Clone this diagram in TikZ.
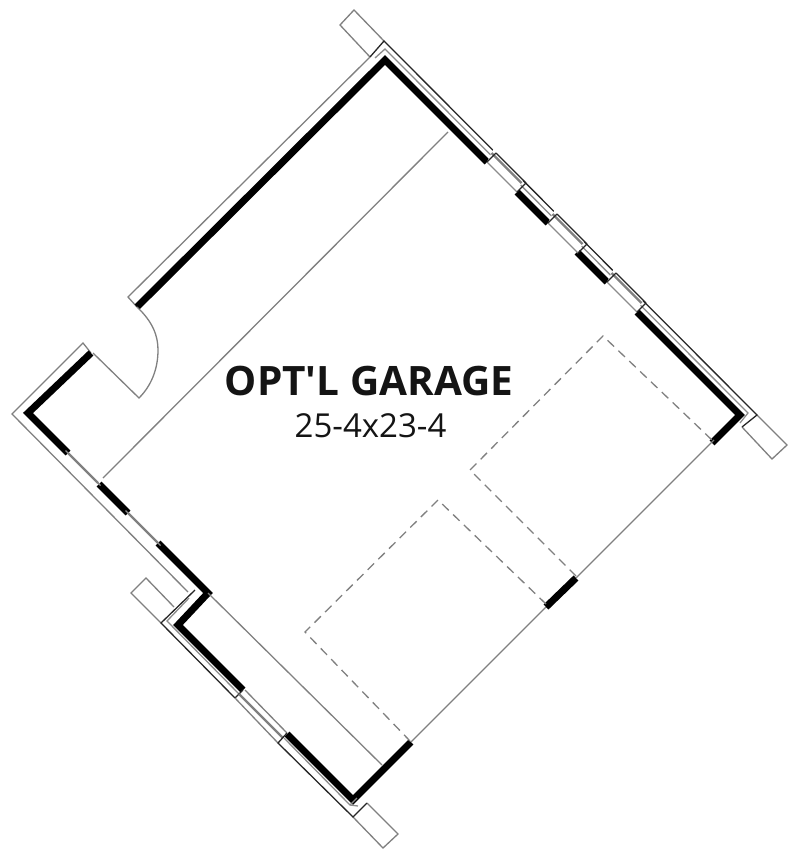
\documentclass[tikz,border=0pt]{standalone}
\usepackage{fontspec}
\setmainfont{Open Sans}
\definecolor{thin}{gray}{0.5}
\definecolor{edge}{gray}{0.15}
\definecolor{glass}{gray}{0.55}
\tikzset{
  wall/.style={line width=7pt,black,line join=miter,line cap=butt},
  fine/.style={line width=1.3pt,color=thin},
  outerline/.style={line width=1.3pt,color=edge},
  mid/.style={line width=1.3pt,color=glass},
  winedge/.style={line width=1.1pt,color=glass},
  wincentre/.style={line width=2.2pt,color=thin},
  dashline/.style={line width=1.3pt,color=thin,dash pattern=on 9pt off 6pt},
}
\begin{document}
\begin{tikzpicture}[x=1pt,y=-1pt]
\useasboundingbox (0,0) rectangle (793,859);
\fill[white] (0,0) rectangle (793,859);

% tails
\draw[fine] (370,57) -- (340,25) -- (354,10) -- (384,41);
\draw[fine] (742,427) -- (772,459) -- (787,445) -- (757,415);
\draw[fine] (161,623) -- (131,593) -- (146,578) -- (174,607);
\draw[fine] (353,817) -- (383,848) -- (398,834) -- (367,803);

% top-left wall
\draw[fine] (137,307) -- (128,297) -- (370,57);
\draw[wall] (137,307) -- (385,60) -- (487,162);
\draw[outerline] (370,57) -- (384,41) -- (757,415) -- (742,427);
\draw[mid] (375,58) -- (385,49) -- (748,413) -- (740,423);

% right wall
\draw[wall] (517,192) -- (548,223);
\draw[wall] (577,252) -- (607,282);
\draw[wall] (637,312) -- (740,415) -- (712,443);

% right windows
\foreach \a in {487,548,607}{
  \fill[white] (\a,\a-325) -- (\a+30,\a+30-325) -- (\a+39,\a+30-334-9) -- (\a+9,\a-343) -- cycle;
  \draw[winedge] (\a,\a-325) -- (\a+30,\a-295);
  \draw[wincentre] (\a+4.5,\a-334) -- (\a+34.5,\a-304);
  \draw[outerline] (\a+9,\a-334) -- (\a+39,\a-304);
  \draw[outerline] (\a,\a-325) -- (\a+9,\a-334);
  \draw[outerline] (\a+30,\a-295) -- (\a+39,\a-304);
}

% door
\draw[fine] (137,307) .. controls (153,322) and (158,336) .. (158,350)
  .. controls (158,368) and (152,385) .. (139,398) -- (93,353);

% left wall
\draw[fine] (91,353) -- (83,343) -- (12,414) -- (188,592);
\draw[wall] (91,353) -- (28,413) -- (68,453);
\draw[wall] (99,484) -- (128,513);
\draw[wall] (158,543) -- (208,593) -- (178,625) -- (243,690);
\draw[wall] (287,734) -- (353,800) -- (411,742);

% left windows
\foreach \a/\b in {68/98,128/158}{
  \draw[winedge] (\a-2.5,\a+382.5) -- (\b-2.5,\b+382.5);
  \draw[winedge] (\a+2.5,\a+387.5) -- (\b+2.5,\b+387.5);
  \draw[wincentre] (\a,\a+385) -- (\b,\b+385);
}

% lower-left wall double
\draw[outerline] (195,590) -- (161,623) -- (235,698);
\draw[mid] (189,598) -- (167,621) -- (240,695);
\draw[outerline] (243,690) -- (235,698);
\draw[fine] (235,698) -- (278,743);
\draw[wincentre] (239,694) -- (283,738);
\draw[fine] (245,690) -- (287,733);
\draw[outerline] (287,733) -- (278,743) -- (353,817) -- (367,803);
\draw[mid] (284,738) -- (350,805) -- (358,806);
\draw[mid] (350,805) -- (357,798);

% inner thin lines
\draw[fine] (103,478) -- (448,132);
\draw[fine] (208,593) -- (382,765);
\draw[fine] (411,742) -- (548,605);
\draw[wall] (546,607) -- (576,578);
\draw[fine] (576,578) -- (714,440);

% dashed parking outlines
\draw[dashline] (546,604) -- (438,500) -- (305,632) -- (410,741);
\draw[dashline] (576,576) -- (470,470) -- (603,336) -- (713,441);

% text
\node[font=\bfseries\fontsize{40.5}{40.5}\selectfont,text=black!92,inner sep=0pt] (title) at (369,381) {OPT\textquotesingle L GARAGE};
\node[font=\fontsize{33}{33}\selectfont,text=black!92,inner sep=0pt] (size) at (370.5,426) {25-4x23-4};
\end{tikzpicture}
\end{document}
